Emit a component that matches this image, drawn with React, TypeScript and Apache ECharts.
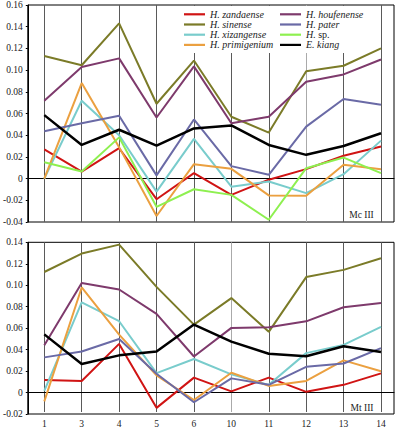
import React, { useEffect, useRef } from "react";
import * as echarts from "echarts";

const categories = ["1", "3", "4", "5", "6", "10", "11", "12", "13", "14"];

const seriesNames = [
  "H. zandaense",
  "H. sinense",
  "H. xizangense",
  "H. primigenium",
  "H. houfenense",
  "H. pater",
  "H. sp.",
  "E. kiang",
];

const seriesColors = ["#d01414", "#7b7b28", "#79cccc", "#eba040", "#7e3a6c", "#6a6aa6", "#8ef050", "#000000"];
const seriesWidths = [2, 2, 2, 2, 2, 2, 2, 2.5];

// Mc III (upper panel)
const mcZandaense = [0.027, 0.0065, 0.028, -0.019, 0.005, -0.015, -0.001, 0.0087, 0.021, 0.0295];
const mcSinense = [0.113, 0.1045, 0.143, 0.069, 0.1088, 0.057, 0.0424, 0.099, 0.104, 0.12];
const mcXizangense = [0.0, 0.0717, 0.04, -0.012, 0.0366, -0.0075, -0.0026, -0.0134, 0.0041, 0.035];
const mcPrimigenium = [0.0, 0.088, 0.029, -0.0345, 0.0133, 0.009, -0.0155, -0.0158, 0.0127, 0.0087];
const mcHoufenense = [0.0717, 0.1028, 0.1108, 0.0563, 0.1034, 0.051, 0.057, 0.0893, 0.096, 0.1098];
const mcPater = [0.0437, 0.051, 0.058, 0.003, 0.0545, 0.0115, 0.0035, 0.0479, 0.0733, 0.0681];
const mcSp = [0.015, 0.0065, 0.038, -0.026, -0.0098, -0.015, -0.0379, 0.0096, 0.0194, 0.005];
const mcKiang = [0.0585, 0.031, 0.045, 0.0304, 0.0462, 0.049, 0.031, 0.0219, 0.0301, 0.0418];

// Mt III (lower panel)
const mtZandaense = [0.0102, 0.0093, 0.0442, -0.0161, 0.0124, -0.0006, 0.0124, -0.001, 0.0056, 0.0164];
const mtSinense = [0.112, 0.1294, 0.1378, 0.098, 0.0624, 0.0874, 0.0556, 0.1072, 0.114, 0.125];
const mtXizangense = [0.0, 0.0834, 0.0656, 0.0167, 0.03, 0.0155, 0.0056, 0.0355, 0.0433, 0.0603];
const mtPrimigenium = [-0.01, 0.0974, 0.053, 0.0145, -0.0087, 0.017, 0.0046, 0.0093, 0.0287, 0.0185];
const mtHoufenense = [0.0429, 0.1017, 0.0955, 0.0725, 0.0323, 0.0593, 0.06, 0.0655, 0.0788, 0.0828];
const mtPater = [0.0315, 0.037, 0.0488, 0.016, -0.0108, 0.0117, 0.0056, 0.0226, 0.0257, 0.0402];
const mtKiang = [0.0532, 0.0253, 0.0334, 0.0371, 0.0624, 0.0464, 0.0349, 0.0325, 0.042, 0.0365];

const mcData = [mcZandaense, mcSinense, mcXizangense, mcPrimigenium, mcHoufenense, mcPater, mcSp, mcKiang];
const mtData = [mtZandaense, mtSinense, mtXizangense, mtPrimigenium, mtHoufenense, mtPater, null, mtKiang];

const legendLeftCol = ["H. zandaense", "H. sinense", "H. xizangense", "H. primigenium"];
const legendRightCol = ["H. houfenense", "H. pater", "H. sp.", "E. kiang"];

const FONT = "'Liberation Serif', 'DejaVu Serif', serif";

export default function App() {
  const ref = useRef<HTMLDivElement>(null);
  useEffect(() => {
    if (!ref.current) return;
    const chart = echarts.init(ref.current, undefined, { renderer: "svg" });

    const yFmt = (v: number) => (Math.abs(v) < 1e-9 ? "0" : v.toFixed(2));

    const frameGrid = (top: number, height: number) => ({
      left: 26,
      right: 7,
      top,
      height,
      show: true,
      borderColor: "#000",
      borderWidth: 1,
      backgroundColor: "transparent",
    });
    const dataGrid = (top: number, height: number) => ({
      left: 44.3,
      right: 20,
      top,
      height,
    });

    const frameX = (gridIndex: number) => ({
      type: "value",
      gridIndex,
      min: 0,
      max: 1,
      axisLine: { show: true, onZero: true, lineStyle: { color: "#000", width: 1 } },
      axisTick: { show: false },
      axisLabel: { show: false },
      splitLine: { show: false },
    });
    const dataX = (gridIndex: number, showLabels: boolean, lineColors: string[]) => ({
      type: "category",
      gridIndex,
      data: categories,
      boundaryGap: false,
      axisLine: { show: false },
      axisTick: { show: false },
      axisLabel: {
        show: showLabels,
        margin: 7,
        fontFamily: FONT,
        fontSize: 9.5,
        color: "#222",
      },
      splitLine: { show: true, lineStyle: { color: lineColors, width: 1 } },
    });
    const frameY = (gridIndex: number, min: number, max: number) => ({
      type: "value",
      gridIndex,
      min,
      max,
      interval: 0.02,
      axisLine: { show: true, lineStyle: { color: "#000", width: 1 } },
      axisTick: { show: true, inside: false, length: 2, lineStyle: { color: "#000" } },
      axisLabel: { margin: 5, formatter: yFmt, fontFamily: FONT, fontSize: 9.5, color: "#222" },
      splitLine: { show: false },
    });
    const dataY = (gridIndex: number, min: number, max: number) => ({
      type: "value",
      gridIndex,
      min,
      max,
      interval: 0.02,
      show: false,
      splitLine: { show: false },
    });

    const dk = "#5a5a5a";
    const lt = "#aaa";
    const topLines = [dk, dk, dk, dk, dk, dk, dk, lt, dk, dk];
    const botLines = [dk, dk, dk, dk, dk, lt, dk, dk, dk, dk];

    const series: any[] = [];
    seriesNames.forEach((name, i) => {
      series.push({
        type: "line",
        name,
        xAxisIndex: 1,
        yAxisIndex: 1,
        data: mcData[i],
        symbol: "none",
        lineStyle: { color: seriesColors[i], width: seriesWidths[i] },
        itemStyle: { color: seriesColors[i] },
        z: i === 7 ? 3 : 2,
      });
      const mt = mtData[i];
      if (mt) {
        series.push({
          type: "line",
          name,
          xAxisIndex: 3,
          yAxisIndex: 3,
          data: mt,
          symbol: "none",
          lineStyle: { color: seriesColors[i], width: seriesWidths[i] },
          itemStyle: { color: seriesColors[i] },
          z: i === 7 ? 3 : 2,
        });
      }
    });

    const legendBase = {
      orient: "vertical",
      top: 9.3,
      padding: 0,
      itemWidth: 21,
      itemHeight: 10,
      itemGap: 0.2,
      icon: "path://M0,0L21,0L21,2.2L0,2.2Z",
      formatter: (n: string) => (n === "H. sp." ? "{i|H.} {r|sp.}" : "{i|" + n + "}"),
      textStyle: {
        fontFamily: FONT,
        fontSize: 10,
        color: "#222",
        lineHeight: 10,
        rich: {
          i: { fontFamily: FONT, fontSize: 10, fontStyle: "italic", color: "#222", lineHeight: 10 },
          r: { fontFamily: FONT, fontSize: 10, fontStyle: "normal", color: "#222", lineHeight: 10 },
        },
      },
    };

    chart.setOption({
      animation: false,
      backgroundColor: "#fff",
      grid: [frameGrid(5, 217), dataGrid(5, 217), frameGrid(242.3, 171.7), dataGrid(242.3, 171.7)],
      xAxis: [frameX(0), dataX(1, false, topLines), frameX(2), dataX(3, true, botLines)],
      yAxis: [frameY(0, -0.04, 0.16), dataY(1, -0.04, 0.16), frameY(2, -0.02, 0.14), dataY(3, -0.02, 0.14)],
      legend: [
        { ...legendBase, left: 184, data: legendLeftCol },
        { ...legendBase, left: 280, data: legendRightCol },
      ],
      graphic: [
        {
          type: "rect",
          z: 1,
          shape: { x: 172, y: 6, width: 192, height: 47 },
          style: { fill: "#fff" },
          silent: true,
        },
        {
          type: "text",
          x: 361.5,
          y: 215,
          style: {
            text: "Mc III",
            font: "9.5px " + FONT,
            fill: "#222",
            align: "center",
            verticalAlign: "middle",
          },
        },
        {
          type: "text",
          x: 362,
          y: 407.7,
          style: {
            text: "Mt III",
            font: "9.5px " + FONT,
            fill: "#222",
            align: "center",
            verticalAlign: "middle",
          },
        },
      ],
      series,
    });

    return () => chart.dispose();
  }, []);

  return (
    <div
      ref={ref}
      style={{ position: "fixed", left: 0, top: 0, width: 401, height: 429, background: "#fff" }}
    />
  );
}
